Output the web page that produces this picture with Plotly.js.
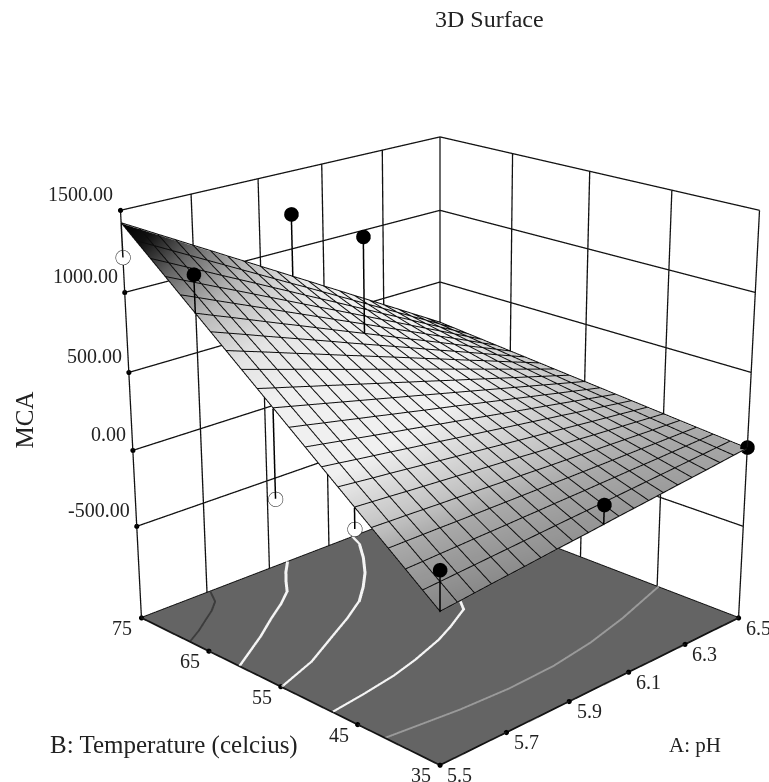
<!DOCTYPE html>
<html><head><meta charset="utf-8">
<script src="https://cdn.plot.ly/plotly-3.0.1.min.js"></script>
<style>html,body{margin:0;padding:0;width:769px;height:782px;overflow:hidden;background:#fff}
#wrap{position:absolute;left:0;top:0;width:769px;height:782px;overflow:hidden}
#p{position:absolute}</style></head>
<body><div id="wrap"><div id="p"></div></div>
<script>
// axes of the surface table
const pH = [5.5,5.55,5.6,5.65,5.7,5.75,5.8,5.85,5.9,5.95,6.0,6.05,6.1,6.15,6.2,6.25,6.3,6.35,6.4,6.45,6.5];
const temp = [35,37,39,41,43,45,47,49,51,53,55,57,59,61,63,65,67,69,71,73,75];
// surface values, one row per temperature
const mca = [
[-200,-190,-179,-168,-158,-148,-137,-126,-116,-106,-95,-84,-74,-64,-53,-42,-32,-22,-11,0,10],
[-119,-112,-105,-98,-91,-84,-77,-70,-63,-56,-50,-43,-36,-29,-22,-15,-8,-1,6,13,20],
[-38,-35,-31,-28,-24,-21,-18,-14,-11,-7,-4,-1,3,6,10,13,16,20,23,27,30],
[43,43,43,43,42,42,42,42,42,42,42,41,41,41,41,41,41,40,40,40,40],
[124,120,117,113,109,106,102,98,94,91,87,83,80,76,72,69,65,61,57,54,50],
[205,198,191,183,176,169,162,154,147,140,133,125,118,111,104,96,89,82,75,67,60],
[286,275,264,254,243,232,221,210,200,189,178,167,156,146,135,124,113,102,92,81,70],
[367,353,338,324,310,295,281,267,252,238,224,209,195,181,166,152,137,123,109,94,80],
[448,430,412,394,376,358,341,323,305,287,269,251,233,215,197,180,162,144,126,108,90],
[529,508,486,465,443,422,400,379,357,336,315,293,272,250,229,207,186,164,143,121,100],
[610,585,560,535,510,485,460,435,410,385,360,335,310,285,260,235,210,185,160,135,110],
[691,662,634,605,577,548,520,491,463,434,406,377,348,320,291,263,234,206,177,149,120],
[772,740,708,676,644,611,579,547,515,483,451,419,387,355,323,290,258,226,194,162,130],
[853,817,782,746,710,675,639,603,568,532,497,461,425,390,354,318,283,247,211,176,140],
[934,895,856,816,777,738,699,660,620,581,542,503,464,424,385,346,307,268,228,189,150],
[1015,972,930,887,844,801,759,716,673,630,588,545,502,459,417,374,331,288,246,203,160],
[1096,1050,1003,957,911,865,818,772,726,679,633,587,540,494,448,402,355,309,263,216,170],
[1177,1127,1077,1027,978,928,878,828,778,728,679,629,579,529,479,429,379,330,280,230,180],
[1258,1205,1151,1098,1044,991,938,884,831,777,724,671,617,564,510,457,404,350,297,243,190],
[1339,1282,1225,1168,1111,1054,997,940,883,826,770,713,656,599,542,485,428,371,314,257,200],
[1420,1360,1299,1239,1178,1118,1057,997,936,876,815,755,694,634,573,513,452,392,331,271,210]];
const floorZ = -1120, topZ = 1500;
// design points
const blackA = [5.5,6.0,6.0,6.0,5.5,6.5];
const blackB = [65,75,65,35,35,35];
const blackZ = [1250,1225,1210,30,45,20];
const blackBase = [1015,815,588,-95,-200,10];
const whiteA = [5.5,5.5,5.5];
const whiteB = [75,55,45];
const whiteZ = [1215,65,80];
const whiteBase = [1420,610,205];
// floor contours
const c1A=[5.71,5.68,5.64,5.6,5.55,5.5], c1B=[75,72.8,71.4,70.3,68.9,67.7];
const c2A=[5.96,5.915,5.878,5.84,5.78,5.71,5.63,5.5], c2B=[75,73.2,71.5,69.6,67.8,66,63.8,60.6];
const c3A=[6.18,6.16,6.11,6.05,5.99,5.925,5.84,5.748,5.628,5.5], c3B=[75,73,70.3,67.5,65.2,63,61,59.1,56.6,54.8];
const c4A=[6.22,6.07,5.98,5.91,5.8,5.71,5.6,5.5], c4B=[63,54.6,52.8,51.6,50.2,49.3,48.6,48.1];
const c5A=[6.5,6.4,6.3,6.15,6,5.85,5.7,5.5], c5B=[44.8,43.7,42.6,41.3,40.5,40.3,40.6,41.5];
// ticks
const zTicks=[-500,0,500,1000,1500];
const zLabels=['-500.00','0.00','500.00','1000.00','1500.00'];
const aTicks=[5.5,5.7,5.9,6.1,6.3,6.5];
const aLabels=['5.5','5.7','5.9','6.1','6.3','6.5'];
const bTicks=[35,45,55,65,75];
const bLabels=['35','45','55','65','75'];

const W=1850,H=1850,cx=440,cy=420.6;
const el=document.getElementById('p');
el.style.left=(cx-W/2)+'px'; el.style.top=(cy-H/2)+'px';
el.style.width=W+'px'; el.style.height=H+'px';
const left=cx-W/2, top_=cy-H/2;
const px=x=>(x-left)/W, py=y=>1-(y-top_)/H;
const SERIF='"Liberation Serif","Times New Roman",serif';

function segs(list){const x=[],y=[],z=[];list.forEach(s=>{s.forEach(p=>{x.push(p[0]);y.push(p[1]);z.push(p[2])});x.push(null);y.push(null);z.push(null)});return {x,y,z}}
const line3=(s,color,width)=>({type:'scatter3d',mode:'lines',x:s.x,y:s.y,z:s.z,line:{color,width},hoverinfo:'skip',showlegend:false,connectgaps:false});
const stems=(A,B,Z,base)=>segs(A.map((a,i)=>[[a,B[i],Z[i]],[a,B[i],base[i]]]));
const curve=(A,B)=>segs([A.map((a,i)=>[a,B[i],floorZ+3])]);
const amin=aTicks[0],amax=aTicks[aTicks.length-1],bmin=bTicks[0],bmax=bTicks[bTicks.length-1];
const grid=segs([].concat(
  aTicks.map(a=>[[a,bmax,floorZ],[a,bmax,topZ]]),
  zTicks.map(z=>[[amin,bmax,z],[amax,bmax,z]]),
  bTicks.map(b=>[[amax,b,floorZ],[amax,b,topZ]]),
  zTicks.map(z=>[[amax,bmin,z],[amax,bmax,z]])));
const meshLift=5;
const mesh=segs([].concat(
  temp.map((b,j)=>pH.map((a,i)=>[a,b,mca[j][i]+meshLift])),
  pH.map((a,i)=>temp.map((b,j)=>[a,b,mca[j][i]+meshLift]))));
const floorEdge=segs([[[amin,bmin,floorZ],[amax,bmin,floorZ],[amax,bmax,floorZ],[amin,bmax,floorZ],[amin,bmin,floorZ]]]);

const flat={ambient:1,diffuse:0,specular:0,roughness:1,fresnel:0};
const traces=[
 {type:'mesh3d',x:[amin,amax,amax,amin],y:[bmin,bmin,bmax,bmax],z:[floorZ,floorZ,floorZ,floorZ],i:[0,0],j:[1,2],k:[2,3],color:'#646464',lighting:flat,hoverinfo:'skip',showscale:false},
 line3(grid,'#111',2.6),
 {type:'surface',x:pH,y:temp,z:mca,cmin:-200,cmax:1420,showscale:false,hoverinfo:'skip',lighting:flat,
  colorscale:[[0,'#858585'],[0.14,'#a8a8a8'],[0.2,'#c4c4c4'],[0.325,'#f0f0f0'],[0.51,'#f0f0f0'],[0.617,'#e4e4e4'],[0.74,'#b8b8b8'],[0.852,'#686868'],[0.94,'#101010'],[1,'#000000']],
  contours:{x:{highlight:false},y:{highlight:false},z:{highlight:false}}},
 line3(mesh,'#0c0c0c',2),
 line3(stems(blackA,blackB,blackZ,blackBase),'#000',3),
 line3(stems(whiteA,whiteB,whiteZ,whiteBase),'#000',3),
 line3(floorEdge,'#111',3.5),
 line3(curve(c1A,c1B),'#3c3c3c',4),
 line3(curve(c2A,c2B),'#f4f4f4',6),
 line3(curve(c3A,c3B),'#f4f4f4',6),
 line3(curve(c4A,c4B),'#f4f4f4',6),
 line3(curve(c5A,c5B),'#9a9a9a',5),
 {type:'scatter3d',mode:'markers',x:blackA,y:blackB,z:blackZ,marker:{size:8.5,color:'#000'},hoverinfo:'skip',showlegend:false},
 {type:'scatter3d',mode:'markers',x:whiteA,y:whiteB,z:whiteZ,marker:{size:8.5,color:'#fff',line:{color:'#111',width:2.5}},hoverinfo:'skip',showlegend:false},
 {type:'scatter3d',mode:'markers',x:zTicks.map(()=>amin).concat(aTicks,bTicks.map(()=>amin)),
   y:zTicks.map(()=>bmax).concat(aTicks.map(()=>bmin),bTicks),
   z:zTicks.concat(aTicks.map(()=>floorZ),bTicks.map(()=>floorZ)),marker:{size:3,color:'#000'},hoverinfo:'skip',showlegend:false}
];
const tickFont={family:SERIF,size:20,color:'#222'};
const sceneAnn=[];
zTicks.forEach((t,i)=>sceneAnn.push({x:amin,y:bmax,z:t,text:zLabels[i],showarrow:false,xanchor:'right',xshift:-5,yshift:16,font:tickFont}));
aTicks.forEach((t,i)=>sceneAnn.push({x:t,y:bmin,z:floorZ,text:aLabels[i],showarrow:false,xshift:20,yshift:-10,font:tickFont}));
bTicks.forEach((t,i)=>sceneAnn.push({x:amin,y:t,z:floorZ,text:bLabels[i],showarrow:false,xshift:-19,yshift:-10,font:tickFont}));
const axisBase={showbackground:false,showline:false,zeroline:false,showgrid:false,showticklabels:false,ticks:'',showspikes:false,title:{text:''}};
const ann=(x,y,text,size,extra)=>Object.assign({xref:'paper',yref:'paper',x:px(x),y:py(y),xanchor:'center',yanchor:'middle',text,showarrow:false,font:{family:SERIF,size,color:'#222'}},extra||{});
const layout={width:W,height:H,margin:{l:0,r:0,t:0,b:0},paper_bgcolor:'#fff',showlegend:false,dragmode:false,
 scene:{domain:{x:[0,1],y:[0,1]},aspectmode:'manual',aspectratio:{x:1.02,y:1.02,z:1.015},
  camera:{eye:{x:-3.39,y:-3.39,z:1.785},center:{x:0,y:0,z:0},up:{x:0,y:0,z:1},projection:{type:'perspective'}},
  xaxis:Object.assign({},axisBase,{range:[5.49,6.51]}),
  yaxis:Object.assign({},axisBase,{range:[34.6,75.4]}),
  zaxis:Object.assign({},axisBase,{range:[floorZ-26.2,topZ+26.2]}),
  annotations:sceneAnn},
 annotations:[
  ann(490,19,'3D Surface',24),
  ann(174,745,'B: Temperature (celcius)',25),
  ann(695,745,'A: pH',21),
  ann(24,420,'MCA',25,{textangle:-90})
 ]};
Plotly.newPlot(el,traces,layout,{displayModeBar:false});
</script></body></html>
